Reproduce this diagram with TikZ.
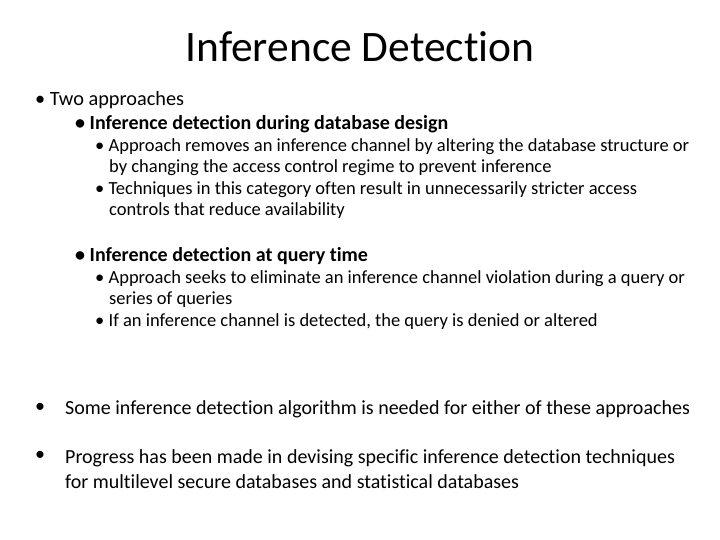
\documentclass[tikz,border=0pt]{standalone}
\usepackage{fontspec}
\setmainfont{Carlito}[Ligatures=NoCommon]
\begin{document}
\begin{tikzpicture}[x=1pt,y=-1pt,
  t/.style={anchor=west,inner sep=0pt},
  s1/.style={t,font=\fontsize{20.3}{24}\selectfont},
  s2/.style={t,font=\fontsize{20}{24}\selectfont\bfseries},
  s3/.style={t,font=\fontsize{18.5}{22}\selectfont},
  s4/.style={t,font=\fontsize{20}{24}\selectfont}]
\useasboundingbox (0,0) rectangle (720,540);
\node[inner sep=0pt,font=\fontsize{43.5}{50}\selectfont] (title) at (360,47) {Inference Detection};
\node[s1] (a) at (35,100) {• Two approaches};
\node[s2] (b) at (75,124) {• Inference detection during database design};
\node[s3] (b1) at (95,147) {• Approach removes an inference channel by altering the database structure or};
\node[s3] (b2) at (109,168) {by changing the access control regime to prevent inference};
\node[s3] (b3) at (95,190) {• Techniques in this category often result in unnecessarily stricter access};
\node[s3] (b4) at (109,211) {controls that reduce availability};
\node[s2] (c) at (75,256) {• Inference detection at query time};
\node[s3] (c1) at (95,279) {• Approach seeks to eliminate an inference channel violation during a query or};
\node[s3] (c2) at (109,300) {series of queries};
\node[s3] (c3) at (95,322) {• If an inference channel is detected, the query is denied or altered};
\node[s4] (d0) at (35,408) {•};
\node[s4] (d) at (65,409) {Some inference detection algorithm is needed for either of these approaches};
\node[s4] (e0) at (35,456) {•};
\node[s4] (e) at (65,458) {Progress has been made in devising specific inference detection techniques};
\node[s4] (e2) at (65,482) {for multilevel secure databases and statistical databases};
\end{tikzpicture}
\end{document}
